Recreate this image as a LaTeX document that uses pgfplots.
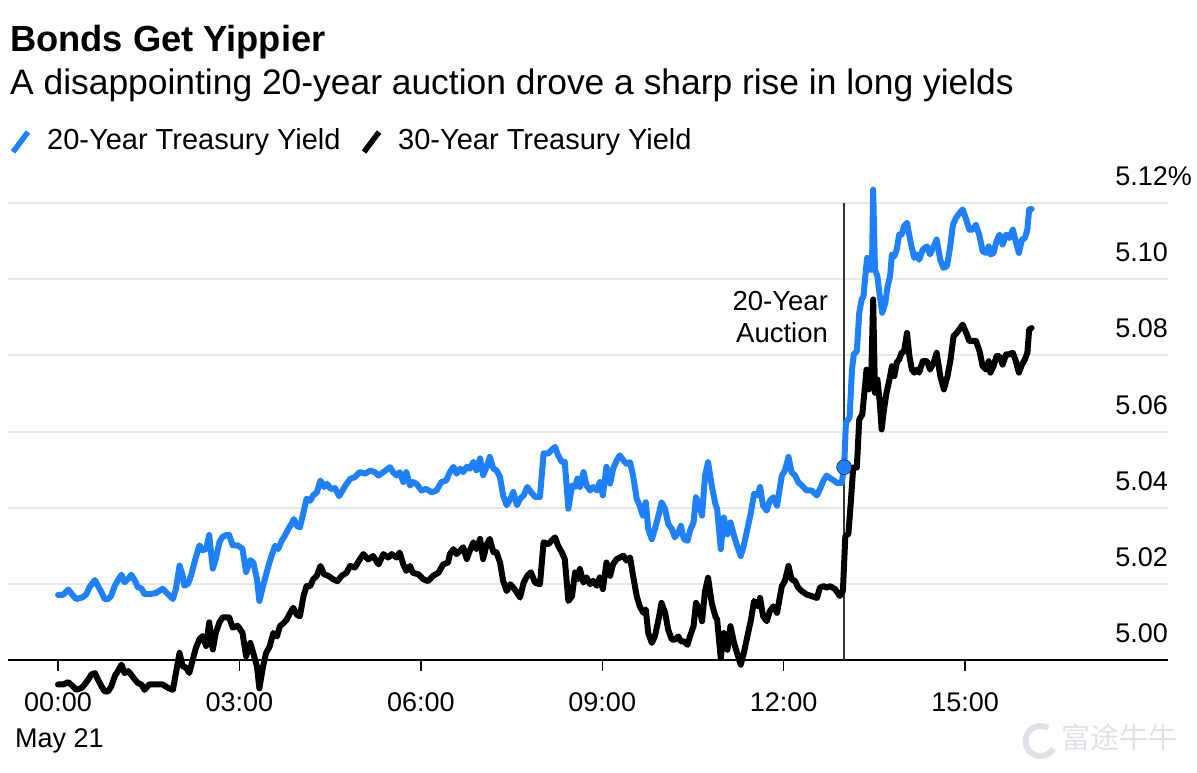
\documentclass[border=0pt]{standalone}
\usepackage{fontspec}
\setmainfont{Liberation Sans}
\newfontfamily\cjk{Noto Sans CJK SC}
\usepackage{pgfplots}
\pgfplotsset{compat=1.18}
\usepackage{pgfplotstable}
\definecolor{bblue}{RGB}{30,128,250}
\definecolor{gridgray}{RGB}{232,232,232}
\definecolor{wmgray}{RGB}{222,226,231}

\pgfplotstableread{
h y
0.00 5.0172
0.08 5.0172
0.17 5.0186
0.25 5.0170
0.30 5.0161
0.41 5.0166
0.47 5.0174
0.52 5.0192
0.61 5.0211
0.66 5.0196
0.72 5.0179
0.77 5.0161
0.83 5.0161
0.88 5.0170
0.94 5.0196
0.99 5.0210
1.05 5.0225
1.10 5.0205
1.16 5.0214
1.21 5.0225
1.27 5.0210
1.32 5.0192
1.38 5.0189
1.43 5.0174
1.51 5.0174
1.62 5.0177
1.73 5.0188
1.82 5.0174
1.90 5.0161
1.95 5.0188
2.01 5.0249
2.06 5.0223
2.09 5.0196
2.15 5.0201
2.20 5.0223
2.28 5.0271
2.34 5.0302
2.39 5.0289
2.45 5.0293
2.50 5.0329
2.56 5.0241
2.61 5.0267
2.67 5.0311
2.72 5.0324
2.78 5.0329
2.83 5.0329
2.89 5.0302
2.97 5.0302
3.05 5.0293
3.11 5.0232
3.18 5.0263
3.23 5.0257
3.29 5.0213
3.33 5.0156
3.39 5.0195
3.42 5.0213
3.48 5.0248
3.53 5.0274
3.59 5.0301
3.64 5.0292
3.70 5.0314
3.75 5.0327
3.81 5.0345
3.86 5.0358
3.90 5.0371
3.95 5.0353
4.00 5.0349
4.06 5.0389
4.11 5.0424
4.17 5.0419
4.22 5.0433
4.28 5.0441
4.34 5.0472
4.40 5.0455
4.45 5.0463
4.51 5.0450
4.58 5.0452
4.65 5.0431
4.72 5.0450
4.77 5.0463
4.83 5.0476
4.91 5.0481
4.99 5.0494
5.08 5.0490
5.16 5.0498
5.24 5.0494
5.30 5.0485
5.38 5.0494
5.49 5.0507
5.54 5.0494
5.60 5.0485
5.65 5.0494
5.71 5.0468
5.76 5.0494
5.82 5.0459
5.87 5.0468
5.93 5.0463
6.01 5.0446
6.09 5.0450
6.18 5.0441
6.26 5.0446
6.34 5.0468
6.42 5.0472
6.48 5.0494
6.54 5.0508
6.59 5.0490
6.65 5.0503
6.70 5.0494
6.76 5.0508
6.81 5.0503
6.87 5.0521
6.92 5.0499
6.98 5.0530
7.03 5.0486
7.09 5.0508
7.14 5.0534
7.20 5.0503
7.25 5.0499
7.31 5.0481
7.36 5.0433
7.42 5.0407
7.48 5.0424
7.53 5.0442
7.59 5.0407
7.64 5.0424
7.70 5.0433
7.76 5.0455
7.82 5.0442
7.89 5.0429
7.97 5.0429
8.03 5.0543
8.11 5.0543
8.16 5.0552
8.22 5.0560
8.27 5.0538
8.33 5.0521
8.38 5.0521
8.44 5.0398
8.50 5.0459
8.55 5.0455
8.59 5.0477
8.63 5.0455
8.69 5.0494
8.74 5.0459
8.80 5.0446
8.85 5.0455
8.91 5.0446
8.96 5.0468
9.01 5.0433
9.07 5.0508
9.13 5.0464
9.18 5.0503
9.24 5.0525
9.29 5.0538
9.35 5.0525
9.40 5.0516
9.46 5.0520
9.51 5.0485
9.57 5.0424
9.62 5.0406
9.67 5.0380
9.72 5.0415
9.76 5.0345
9.82 5.0318
9.87 5.0345
9.93 5.0380
9.98 5.0415
10.04 5.0397
10.09 5.0358
10.15 5.0345
10.20 5.0323
10.26 5.0336
10.30 5.0353
10.35 5.0318
10.41 5.0314
10.45 5.0340
10.51 5.0362
10.55 5.0428
10.61 5.0406
10.65 5.0380
10.70 5.0485
10.75 5.0520
10.81 5.0459
10.87 5.0411
10.90 5.0397
10.96 5.0292
11.01 5.0375
11.07 5.0331
11.12 5.0362
11.18 5.0327
11.23 5.0301
11.29 5.0274
11.34 5.0301
11.40 5.0345
11.46 5.0389
11.51 5.0437
11.57 5.0433
11.61 5.0455
11.66 5.0406
11.72 5.0393
11.77 5.0419
11.83 5.0428
11.89 5.0406
11.93 5.0446
11.97 5.0485
12.02 5.0498
12.08 5.0534
12.13 5.0494
12.19 5.0485
12.24 5.0468
12.30 5.0459
12.38 5.0446
12.46 5.0446
12.55 5.0433
12.60 5.0450
12.66 5.0472
12.71 5.0485
12.77 5.0478
12.83 5.0472
12.88 5.0466
12.96 5.0466
13.00 5.0507
13.03 5.0624
13.09 5.0637
13.13 5.0763
13.16 5.0803
13.21 5.0811
13.25 5.0912
13.29 5.0947
13.32 5.0955
13.35 5.1008
13.38 5.1056
13.42 5.1025
13.46 5.1025
13.48 5.1235
13.51 5.1025
13.55 5.1008
13.59 5.0955
13.63 5.0912
13.68 5.0938
13.72 5.0982
13.76 5.1008
13.79 5.1065
13.83 5.1060
13.87 5.1078
13.91 5.1117
13.95 5.1117
13.99 5.1139
14.04 5.1148
14.08 5.1113
14.12 5.1082
14.16 5.1056
14.20 5.1065
14.24 5.1051
14.30 5.1078
14.37 5.1086
14.42 5.1065
14.48 5.1086
14.53 5.1104
14.59 5.1051
14.64 5.1030
14.70 5.1034
14.75 5.1082
14.80 5.1143
14.85 5.1161
14.91 5.1174
14.96 5.1183
15.02 5.1156
15.07 5.1130
15.13 5.1130
15.18 5.1143
15.24 5.1113
15.29 5.1073
15.35 5.1069
15.39 5.1086
15.42 5.1065
15.47 5.1069
15.52 5.1100
15.57 5.1117
15.62 5.1091
15.68 5.1117
15.73 5.1108
15.79 5.1130
15.83 5.1104
15.89 5.1069
15.94 5.1104
15.99 5.1108
16.03 5.1130
16.06 5.1183
16.10 5.1184
}\tblblue

\pgfplotstableread{
h y
0.00 4.9937
0.08 4.9937
0.17 4.9943
0.25 4.9932
0.30 4.9923
0.39 4.9928
0.44 4.9937
0.50 4.9950
0.55 4.9963
0.61 4.9967
0.66 4.9950
0.72 4.9932
0.77 4.9919
0.83 4.9919
0.88 4.9932
0.94 4.9959
0.99 4.9972
1.05 4.9989
1.10 4.9967
1.16 4.9972
1.21 4.9963
1.27 4.9950
1.32 4.9941
1.38 4.9937
1.43 4.9923
1.51 4.9937
1.62 4.9937
1.73 4.9937
1.82 4.9928
1.90 4.9923
1.95 4.9967
2.01 5.0020
2.06 4.9985
2.12 4.9981
2.17 4.9967
2.23 5.0003
2.28 5.0033
2.34 5.0056
2.39 5.0064
2.45 5.0038
2.50 5.0100
2.56 5.0029
2.61 5.0073
2.67 5.0100
2.72 5.0113
2.78 5.0113
2.83 5.0113
2.89 5.0086
2.97 5.0091
3.05 5.0073
3.11 5.0011
3.18 5.0046
3.23 5.0019
3.29 4.9984
3.33 4.9927
3.39 4.9984
3.44 5.0019
3.50 5.0037
3.56 5.0072
3.62 5.0063
3.67 5.0090
3.73 5.0098
3.78 5.0107
3.84 5.0125
3.89 5.0138
3.95 5.0120
4.00 5.0116
4.06 5.0169
4.11 5.0195
4.17 5.0195
4.22 5.0213
4.28 5.0222
4.34 5.0248
4.40 5.0226
4.47 5.0222
4.55 5.0213
4.62 5.0208
4.69 5.0222
4.77 5.0230
4.83 5.0248
4.91 5.0244
4.99 5.0265
5.05 5.0279
5.13 5.0265
5.21 5.0274
5.30 5.0252
5.38 5.0279
5.46 5.0270
5.52 5.0279
5.60 5.0270
5.65 5.0283
5.71 5.0252
5.76 5.0235
5.82 5.0248
5.87 5.0230
5.96 5.0226
6.04 5.0213
6.12 5.0208
6.20 5.0222
6.29 5.0230
6.37 5.0252
6.45 5.0257
6.48 5.0279
6.54 5.0292
6.59 5.0279
6.65 5.0288
6.70 5.0297
6.76 5.0266
6.81 5.0288
6.87 5.0310
6.92 5.0292
6.98 5.0319
7.03 5.0266
7.09 5.0305
7.14 5.0319
7.20 5.0284
7.25 5.0284
7.31 5.0257
7.36 5.0209
7.42 5.0182
7.48 5.0200
7.53 5.0191
7.59 5.0178
7.64 5.0165
7.70 5.0204
7.76 5.0222
7.82 5.0231
7.89 5.0204
7.97 5.0200
8.03 5.0310
8.11 5.0305
8.16 5.0314
8.22 5.0323
8.27 5.0301
8.33 5.0284
8.38 5.0266
8.44 5.0156
8.50 5.0169
8.55 5.0231
8.59 5.0213
8.63 5.0240
8.69 5.0204
8.74 5.0218
8.80 5.0200
8.85 5.0209
8.91 5.0196
8.96 5.0218
9.01 5.0187
9.07 5.0257
9.13 5.0222
9.18 5.0253
9.24 5.0266
9.29 5.0270
9.35 5.0275
9.40 5.0262
9.46 5.0270
9.51 5.0222
9.57 5.0169
9.62 5.0142
9.68 5.0125
9.72 5.0134
9.76 5.0072
9.82 5.0046
9.87 5.0063
9.93 5.0107
9.98 5.0151
10.04 5.0125
10.09 5.0081
10.15 5.0055
10.20 5.0055
10.26 5.0063
10.30 5.0050
10.35 5.0050
10.41 5.0041
10.45 5.0063
10.51 5.0090
10.55 5.0151
10.61 5.0134
10.65 5.0103
10.70 5.0182
10.75 5.0217
10.81 5.0151
10.87 5.0116
10.90 5.0107
10.96 5.0006
11.01 5.0072
11.07 5.0028
11.12 5.0090
11.18 5.0046
11.23 5.0019
11.29 4.9989
11.34 5.0019
11.40 5.0063
11.46 5.0107
11.51 5.0156
11.57 5.0142
11.61 5.0164
11.66 5.0116
11.72 5.0103
11.77 5.0129
11.83 5.0142
11.89 5.0125
11.93 5.0160
11.97 5.0195
12.02 5.0208
12.08 5.0248
12.13 5.0213
12.19 5.0208
12.24 5.0191
12.30 5.0182
12.38 5.0173
12.46 5.0169
12.55 5.0164
12.60 5.0191
12.66 5.0195
12.71 5.0191
12.77 5.0195
12.85 5.0187
12.93 5.0169
12.98 5.0183
13.02 5.0327
13.07 5.0331
13.11 5.0414
13.15 5.0506
13.21 5.0506
13.25 5.0632
13.30 5.0645
13.34 5.0711
13.37 5.0763
13.41 5.0711
13.45 5.0755
13.48 5.0947
13.51 5.0702
13.55 5.0737
13.59 5.0676
13.62 5.0606
13.66 5.0659
13.70 5.0702
13.75 5.0737
13.79 5.0772
13.83 5.0746
13.87 5.0781
13.91 5.0790
13.95 5.0807
13.99 5.0811
14.04 5.0859
14.08 5.0798
14.12 5.0763
14.16 5.0755
14.20 5.0763
14.24 5.0755
14.30 5.0785
14.37 5.0785
14.42 5.0763
14.48 5.0781
14.53 5.0807
14.59 5.0746
14.65 5.0711
14.71 5.0746
14.76 5.0790
14.81 5.0851
14.86 5.0859
14.92 5.0872
14.96 5.0881
15.02 5.0859
15.07 5.0838
15.13 5.0838
15.18 5.0838
15.24 5.0811
15.29 5.0772
15.35 5.0763
15.39 5.0785
15.42 5.0755
15.47 5.0772
15.52 5.0798
15.57 5.0798
15.62 5.0776
15.68 5.0803
15.73 5.0803
15.79 5.0807
15.83 5.0790
15.89 5.0755
15.94 5.0776
15.99 5.0790
16.03 5.0807
16.06 5.0868
16.10 5.0872
}\tblblack

\begin{document}
\begin{tikzpicture}[x=1pt,y=1pt]
\useasboundingbox (0,0) rectangle (1197,772);
% titles
\node[anchor=base west, inner sep=0pt, font=\fontsize{36.3}{41}\selectfont\bfseries] at (10,720) {Bonds Get Yippier};
\node[anchor=base west, inner sep=0pt, font=\fontsize{35.4}{40}\selectfont] at (10,677) {A disappointing 20-year auction drove a sharp rise in long yields};
% legend
\draw[bblue, line width=5.5pt] (13,620) -- (28,640);
\node[anchor=base west, inner sep=0pt, font=\fontsize{29}{34}\selectfont] at (47,622) {20-Year Treasury Yield};
\draw[black, line width=5.5pt] (364,620) -- (379,640);
\node[anchor=base west, inner sep=0pt, font=\fontsize{29}{34}\selectfont] at (398,622) {30-Year Treasury Yield};
% date
\node[anchor=base west, inner sep=0pt, font=\fontsize{27}{32}\selectfont] at (15,25) {May 21};
% watermark
\draw[wmgray, line width=6pt] (1048,44) arc (60:330:15);
\node[anchor=base west, inner sep=0pt, font=\cjk\fontsize{29}{34}\selectfont, text=wmgray] at (1061,24) {富途牛牛};

\begin{axis}[
  at={(8pt,73.4pt)}, anchor=south west,
  scale only axis, width=1160pt, height=518.5pt,
  xmin=-0.827, xmax=18.356, ymin=4.99, ymax=5.126,
  clip=false,
  axis line style={draw=none},
  major tick length=0pt,
  xtick={0,3,6,9,12,15},
  xticklabels={00:00,03:00,06:00,09:00,12:00,15:00},
  ytick={5.00,5.02,5.04,5.06,5.08,5.10,5.12},
  yticklabels={5.00,5.02,5.04,5.06,5.08,5.10,{5.12\rlap{\%}}},
  yticklabel pos=right,
  ymajorgrids, grid style={gridgray, line width=2pt},
  tick label style={font=\fontsize{27}{32}\selectfont},
  xticklabel style={anchor=base, inner sep=0pt, yshift=-12.5pt},
  yticklabel style={anchor=base east, inner sep=0pt, yshift=17.5pt},
  /pgf/number format/assume math mode=true,
]
\draw[black, line width=2pt] (axis cs:-0.827,5.00) -- (axis cs:18.356,5.00);
\draw[black, line width=1.5pt] (axis cs:0,5.00) -- ++(0pt,-11pt);
\draw[black, line width=1.5pt] (axis cs:3,5.00) -- ++(0pt,-11pt);
\draw[black, line width=1.5pt] (axis cs:6,5.00) -- ++(0pt,-11pt);
\draw[black, line width=1.5pt] (axis cs:9,5.00) -- ++(0pt,-11pt);
\draw[black, line width=1.5pt] (axis cs:12,5.00) -- ++(0pt,-11pt);
\draw[black, line width=1.5pt] (axis cs:15,5.00) -- ++(0pt,-11pt);
\draw[black!80, line width=1.5pt] (axis cs:13,5.12) -- (axis cs:13,5.00);
\node[anchor=base east, inner sep=0pt, xshift=-16pt, font=\fontsize{27.5}{32}\selectfont] at (axis cs:13,5.0917) {20-Year};
\node[anchor=base east, inner sep=0pt, xshift=-16pt, font=\fontsize{27.5}{32}\selectfont] at (axis cs:13,5.0833) {Auction};
\addplot[black, line width=6pt, line join=round, line cap=round, mark=none] table[x=h, y=y] {\tblblack};
\addplot[bblue, line width=6pt, line join=round, line cap=round, mark=none] table[x=h, y=y] {\tblblue};
\addplot[only marks, mark=*, mark size=7.5pt, mark options={draw=none, fill=bblue}] coordinates {(13.0,5.0507)};
\end{axis}
\end{tikzpicture}
\end{document}
